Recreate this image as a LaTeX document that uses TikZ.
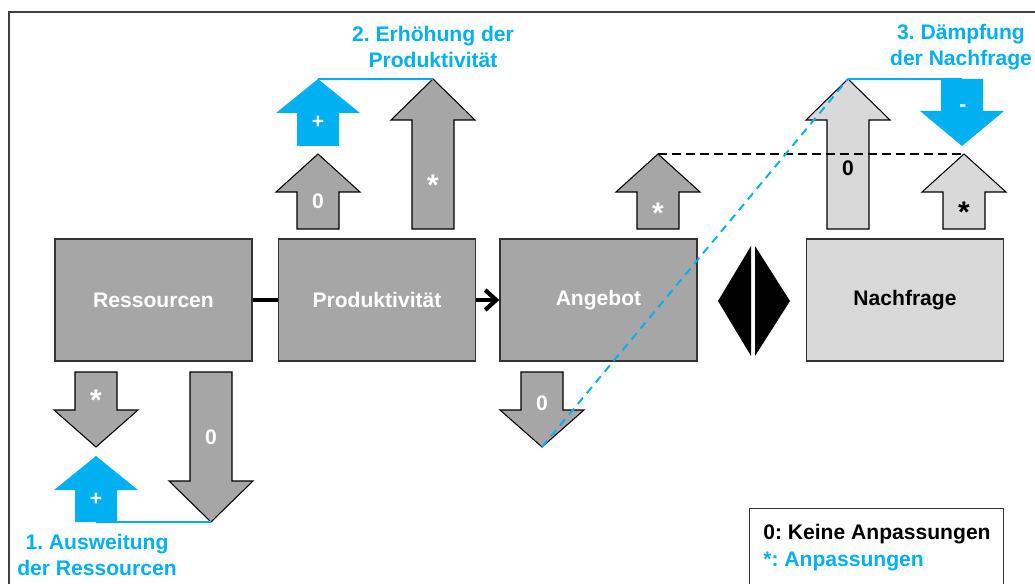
\documentclass[tikz,border=0pt]{standalone}
\usepackage{fontspec}
\setmainfont{Liberation Sans}
\frenchspacing
\usetikzlibrary{arrows.meta}
\definecolor{boxGray}{HTML}{A6A6A6}
\definecolor{boxLight}{HTML}{D9D9D9}
\definecolor{adjBlue}{HTML}{00B0F0}
\tikzset{
    every node/.style={font=\bfseries\fontsize{12pt}{14.4pt}\selectfont},
    block/.style={draw=black!80, line width=0.8pt, minimum width=3.94cm, minimum height=2.44cm, inner sep=0pt},
    darkArrow/.style={draw=black, line width=0.6pt, fill=boxGray},
    lightArrow/.style={draw=black, line width=0.6pt, fill=boxLight},
    blueArrow/.style={fill=adjBlue},
    blueLabel/.style={text=adjBlue, align=center},
    blueLine/.style={adjBlue, line width=1.2pt},
    bigStar/.style={font=\bfseries\fontsize{17pt}{20pt}\selectfont},
}
\newcommand{\blockArrow}[6][darkArrow]{
    \path[#1] (#2-21, #3) -- (#2-21, #4) -- (#2-42, #4) -- (#2, #5) -- (#2+42, #4) -- (#2+21, #4) -- (#2+21, #3) -- cycle;
    \coordinate (#6-tail) at (#2, #3);
    \coordinate (#6-tip) at (#2, #5);
}
\newcommand{\arrowLabel}[5][white]{
    \node[text=#1, anchor=base, inner sep=0pt] (#5) at (#2, #3) {#4};
}
\newcommand{\starLabel}[4][white]{
    \node[bigStar, text=#1, anchor=base, inner sep=0pt] (#4) at (#2, #3) {*};
}

\begin{document}
\begin{tikzpicture}[x=0.02cm, y=-0.02cm]
	\useasboundingbox (0,0) rectangle (1035,584);
	\draw[black!75, line width=0.6pt] (9,12) rectangle (1040,600);

	% Kaesten
	\node[block, fill=boxGray, text=white] (res) at (153.5,300) {Ressourcen};
	\node[block, fill=boxGray, text=white] (prod) at (377,300) {Produktivität};
	\node[block, fill=boxGray, text=white] (ang) at (598.5,300) {Angebot};
	\node[block, fill=boxLight] (nach) at (905,300) {Nachfrage};

	\draw[line width=2.4pt] (res) -- (prod);
	\draw[line width=2.4pt, -{Straight Barb[length=2.2mm, width=4mm]}] (prod) -- (ang);

	\fill (718,301) -- (751,246) -- (751,356) -- cycle;
	\fill (755,246) -- (790,301) -- (755,356) -- cycle;

	% Ressourcen
	\blockArrow{96}{372}{410}{447}{resStar}
	\blockArrow{211}{372}{481}{522}{resZero}
	\blockArrow[blueArrow]{96}{522}{490}{456}{resPlus}
	\draw[blueLine] (resPlus-tail) -- (resZero-tip);
	\starLabel{96}{410}{resStarLabel}
	\arrowLabel{211}{444}{0}{resZeroLabel}
	\arrowLabel{96}{505}{+}{resPlusLabel}
	\node[blueLabel] (stepOne) at (97,555) {1. Ausweitung\\der Ressourcen};

	% Produktivitaet
	\blockArrow{318}{229}{192}{154}{prodZero}
	\blockArrow{433}{229}{120}{79}{prodStar}
	\blockArrow[blueArrow]{318}{146}{113}{79}{prodPlus}
	\draw[blueLine] (prodPlus-tip) -- (prodStar-tip);
	\arrowLabel{318}{209}{0}{prodZeroLabel}
	\starLabel{433}{196}{prodStarLabel}
	\arrowLabel{318}{129}{+}{prodPlusLabel}
	\node[blueLabel] (stepTwo) at (433,47) {2. Erhöhung der\\Produktivität};

	% Angebot
	\blockArrow{542}{372}{410}{447}{angZero}
	\blockArrow{658}{229}{192}{154}{angStar}
	\arrowLabel{542}{410}{0}{angZeroLabel}
	\starLabel{658}{224}{angStarLabel}

	% Nachfrage
	\blockArrow[lightArrow]{848}{229}{120}{79}{nachZero}
	\blockArrow[lightArrow]{964}{229}{192}{154}{nachStar}
	\draw[blueLine] (nachZero-tip) -- (962,79) coordinate (nachMinus-top);
	\blockArrow[blueArrow]{962}{79}{111}{146}{nachMinus}
	\arrowLabel[black]{848}{176}{0}{nachZeroLabel}
	\starLabel[black]{964}{223}{nachStarLabel}
	\arrowLabel{963}{112}{-}{nachMinusLabel}
	\node[blueLabel] (stepThree) at (961,47) {3. Dämpfung\\der Nachfrage};

	\draw[line width=1.1pt, dash pattern=on 0.18cm off 0.1cm] (angStar-tip) -- (nachStar-tip);
	\draw[adjBlue, line width=1.1pt, dash pattern=on 0.16cm off 0.12cm] (angZero-tip) -- (nachZero-tip);

	% Legende
	\node[draw=black!80, line width=0.8pt, anchor=north west, minimum width=5.08cm, minimum height=1.8cm] (legend) at (749,508) {};
	\node[anchor=north west, align=left, inner sep=0pt] (legendText) at (763,524) {0: Keine Anpassungen\\[1pt]\textcolor{adjBlue}{*: Anpassungen}};
\end{tikzpicture}
\end{document}
